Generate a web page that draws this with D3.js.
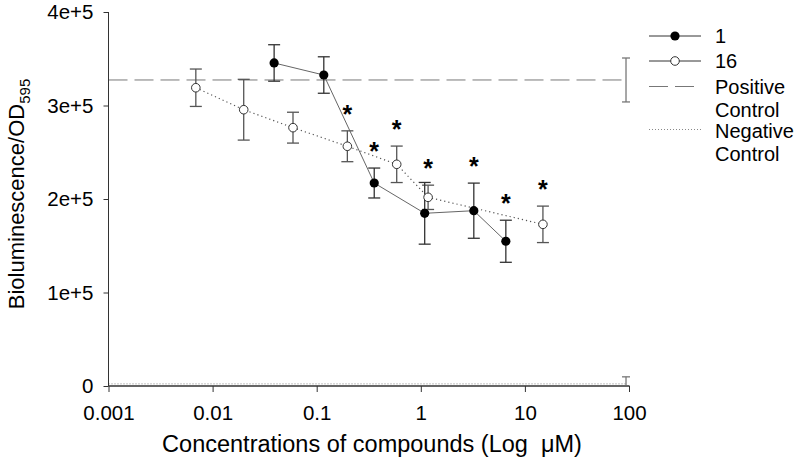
<!DOCTYPE html>
<html><head><meta charset="utf-8">
<script src="https://cdn.jsdelivr.net/npm/d3@7"></script>
<style>body{margin:0;background:#fff}svg{display:block}text{font-family:"Liberation Sans",Arial,sans-serif}</style>
</head><body><svg id="c" width="800" height="473"></svg>
<script>
// ---- data ----
const conc1 = [0.039, 0.117, 0.357, 1.09, 3.23, 6.56];
const mean1 = [345500, 332600, 217100, 184700, 187500, 154800];
const err1  = [19500, 19500, 16000, 33000, 29500, 22500];
const conc16 = [0.0069, 0.0199, 0.0592, 0.197, 0.587, 1.175, 14.9];
const mean16 = [319000, 295500, 276300, 256400, 237100, 201800, 172900];
const err16  = [20000, 32500, 16500, 16500, 19500, 13000, 19500];
const controlConc = 93.6;
const positiveMean = 327300, positiveErr = 23500;
const negativeMean = 2300, negativeErr = 7500;
const starConc   = [0.197, 0.357, 0.587, 1.175, 3.23, 6.56, 14.9];
const starSeries = ["16", "1", "16", "16", "1", "1", "16"];
const xTicks = [0.001, 0.01, 0.1, 1, 10, 100];
const xTickLabels = ["0.001", "0.01", "0.1", "1", "10", "100"];
const yTicks = [0, 100000, 200000, 300000, 400000];
const yTickLabels = ["0", "1e+5", "2e+5", "3e+5", "4e+5"];
const legendLabels = [["1"], ["16"], ["Positive", "Control"], ["Negative", "Control"]];

// ---- chart ----
const svg = d3.select("#c");
const x = d3.scaleLog().domain([0.001, 100]).range([108.5, 629]);
const y = d3.scaleLinear().domain([0, 400000]).range([386, 12]);

const s1 = conc1.map((c, i) => ({c, m: mean1[i], e: err1[i]}));
const s16 = conc16.map((c, i) => ({c, m: mean16[i], e: err16[i]}));

// controls
svg.append("line").attr("x1", x(0.001)).attr("x2", x(controlConc))
  .attr("y1", y(positiveMean)).attr("y2", y(positiveMean))
  .attr("stroke", "#777").attr("stroke-width", 1).attr("stroke-dasharray", "19,7");
svg.append("line").attr("x1", x(0.001)).attr("x2", x(controlConc))
  .attr("y1", y(negativeMean)).attr("y2", y(negativeMean))
  .attr("stroke", "#888").attr("stroke-width", 1).attr("stroke-dasharray", "1,2");
function errBar(g, cx, lo, hi, cap, color) {
  g.append("line").attr("x1", cx).attr("x2", cx).attr("y1", y(lo)).attr("y2", y(hi)).attr("stroke", color).attr("stroke-width", 1.3);
  [lo, hi].forEach(v => g.append("line").attr("x1", cx - cap).attr("x2", cx + cap).attr("y1", y(v)).attr("y2", y(v)).attr("stroke", color).attr("stroke-width", 1.3));
}
const cg = svg.append("g");
errBar(cg, x(controlConc), positiveMean - positiveErr, positiveMean + positiveErr, 4, "#777");
errBar(cg, x(controlConc), Math.max(0, negativeMean - negativeErr), negativeMean + negativeErr, 4, "#777");

// axes
const xAxis = d3.axisBottom(x).tickValues(xTicks).tickFormat((d, i) => xTickLabels[i]).tickSize(6).tickPadding(13);
const gx = svg.append("g").attr("transform", "translate(0,386)").call(xAxis);
gx.select(".domain").attr("stroke", "#666").attr("stroke-width", 2).attr("d", `M${x(0.001)},0H${x(100)}`);
gx.selectAll(".tick line").attr("stroke", "#333");
gx.selectAll("text").attr("font-size", 20.5).attr("fill", "#000").attr("font-family", '"Liberation Sans",Arial,sans-serif');

const yAxis = d3.axisLeft(y).tickValues(yTicks).tickFormat((d, i) => yTickLabels[i]).tickSize(5).tickPadding(10);
const gy = svg.append("g").attr("transform", `translate(${x(0.001)},0)`).call(yAxis);
gy.select(".domain").attr("stroke", "#333").attr("d", `M0,${y(400000)}V${y(0)}`);
gy.selectAll(".tick line").attr("stroke", "#333");
gy.selectAll("text").attr("font-size", 20.5).attr("fill", "#000").attr("font-family", '"Liberation Sans",Arial,sans-serif');

// series lines
svg.append("path").datum(s1).attr("fill", "none").attr("stroke", "#666").attr("stroke-width", 1)
  .attr("d", d3.line().x(d => x(d.c)).y(d => y(d.m)));
svg.append("path").datum(s16).attr("fill", "none").attr("stroke", "#555").attr("stroke-width", 1.2).attr("stroke-dasharray", "1.2,3")
  .attr("d", d3.line().x(d => x(d.c)).y(d => y(d.m)));

// error bars
const eg = svg.append("g");
s16.forEach(d => errBar(eg, x(d.c), d.m - d.e, d.m + d.e, 6, "#555"));
s1.forEach(d => errBar(eg, x(d.c), d.m - d.e, d.m + d.e, 6, "#333"));

// markers
svg.selectAll(".m16").data(s16).join("circle").attr("cx", d => x(d.c)).attr("cy", d => y(d.m)).attr("r", 4.3)
  .attr("fill", "#fff").attr("stroke", "#333").attr("stroke-width", 1);
svg.selectAll(".m1").data(s1).join("circle").attr("cx", d => x(d.c)).attr("cy", d => y(d.m)).attr("r", 4.6)
  .attr("fill", "#000");

// stars
const seriesMap = {"1": s1, "16": s16};
starConc.forEach((c, i) => {
  const d = seriesMap[starSeries[i]].find(p => p.c === c);
  svg.append("text").attr("x", x(c)).attr("y", y(d.m + d.e) - 22 + 14)
    .attr("text-anchor", "middle").attr("font-size", 25).attr("font-weight", "bold").text("*");
});

// titles
svg.append("text").attr("x", 372).attr("y", 452).attr("text-anchor", "middle").attr("font-size", 23.5)
  .style("white-space", "pre").text("Concentrations of compounds (Log  \u03bcM)");
const yt = svg.append("text").attr("transform", "translate(24,194) rotate(-90)").attr("text-anchor", "middle").attr("font-size", 22);
yt.append("tspan").text("Bioluminescence/OD");
yt.append("tspan").attr("font-size", 15).attr("dy", 6).text("595");

// legend
const lg = svg.append("g");
const rowY = [36, 61, 86.5, 131];
const lx1 = 649, lx2 = 701;
lg.append("line").attr("x1", lx1).attr("x2", lx2).attr("y1", rowY[0]).attr("y2", rowY[0]).attr("stroke", "#333");
lg.append("circle").attr("cx", (lx1 + lx2) / 2).attr("cy", rowY[0]).attr("r", 4.6).attr("fill", "#000");
lg.append("line").attr("x1", lx1).attr("x2", lx2).attr("y1", rowY[1]).attr("y2", rowY[1]).attr("stroke", "#333");
lg.append("circle").attr("cx", (lx1 + lx2) / 2).attr("cy", rowY[1]).attr("r", 4.3).attr("fill", "#fff").attr("stroke", "#333");
lg.append("line").attr("x1", lx1).attr("x2", lx2 - 1).attr("y1", rowY[2]).attr("y2", rowY[2]).attr("stroke", "#777").attr("stroke-dasharray", "19,7");
lg.append("line").attr("x1", lx1).attr("x2", lx2).attr("y1", rowY[3] - 1.5).attr("y2", rowY[3] - 1.5).attr("stroke", "#888").attr("stroke-dasharray", "1,2");
legendLabels.forEach((lines, i) => {
  lines.forEach((t, j) => {
    lg.append("text").attr("x", 715).attr("y", rowY[i] + 7 + j * 23).attr("font-size", 20).text(t);
  });
});
</script></body></html>
